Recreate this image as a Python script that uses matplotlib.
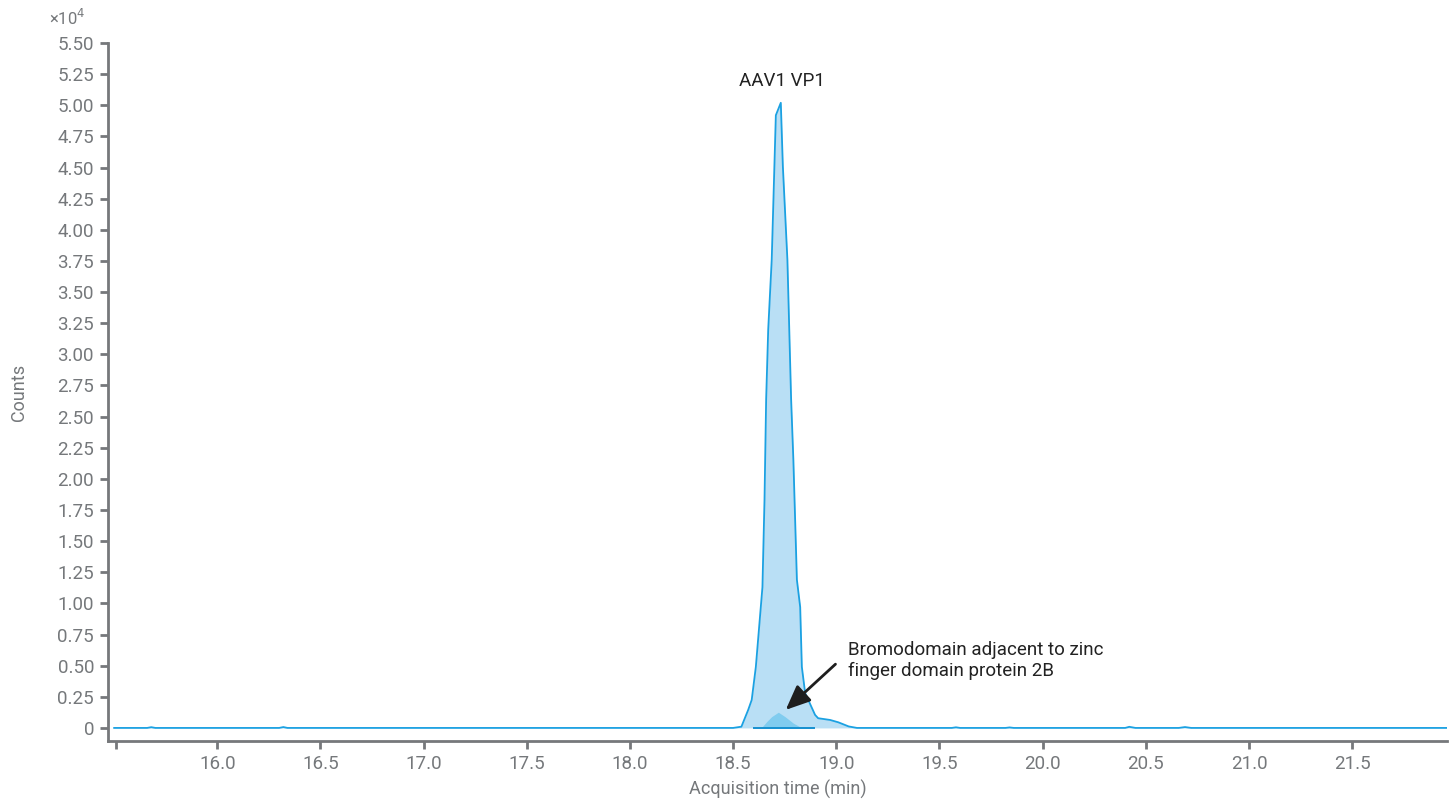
import matplotlib
matplotlib.use("Agg")
import matplotlib.pyplot as plt
from matplotlib.ticker import FuncFormatter, FixedLocator

plt.rcParams['font.family'] = ['Roboto', 'DejaVu Sans']

# main chromatogram (AAV1 VP1), time in min, intensity in counts
main_time = [15.50, 15.66, 15.68, 15.70, 16.30, 16.32, 16.34, 18.50, 18.54,
             18.573, 18.590, 18.610, 18.642, 18.652, 18.660, 18.670, 18.687,
             18.707, 18.731, 18.741, 18.763, 18.781, 18.792, 18.809, 18.825,
             18.833, 18.849, 18.897, 18.912, 18.970, 19.010, 19.060, 19.10,
             19.56, 19.58, 19.60, 19.82, 19.84, 19.86, 20.40, 20.42, 20.45,
             20.66, 20.69, 20.72, 21.96]
main_counts = [0, 0, 60, 0, 0, 70, 0, 0, 100,
               1450, 2250, 4900, 11300, 18300, 26400, 32000, 37600,
               49200, 50200, 45100, 37600, 26400, 21500, 11900, 9700,
               4900, 2800, 1050, 780, 640, 450, 120, 0,
               0, 50, 0, 0, 40, 0, 0, 90, 0,
               0, 70, 0, 0]

# co-eluting protein
minor_time = [18.60, 18.639, 18.663, 18.687, 18.719, 18.751, 18.792, 18.825, 18.89]
minor_counts = [0, 50, 510, 910, 1260, 910, 380, 80, 0]

x_ticks = [16.0, 16.5, 17.0, 17.5, 18.0, 18.5, 19.0, 19.5, 20.0, 20.5, 21.0, 21.5]
y_ticks = [i * 2500 for i in range(23)]

axis_gray = '#76787b'
label_gray = '#75787b'
line_blue = '#1ba1e2'

fig = plt.figure(figsize=(14.53, 8.01), dpi=100)
ax = fig.add_axes([0.0743, 0.0749, 0.9216, 0.8714])

ax.fill_between(main_time, main_counts, color='#b9dff5', linewidth=0)
ax.fill_between(minor_time, minor_counts, color='#80ccef', linewidth=0)
ax.plot(main_time, main_counts, color=line_blue, lw=1.3)
ax.plot([minor_time[0], minor_time[-1]], [0, 0], color='#1590d0', lw=1.4)

ax.set_xlim(15.47, 21.96)
ax.set_ylim(-1050, 55000)

ax.xaxis.set_major_locator(FixedLocator([15.51] + x_ticks))
ax.xaxis.set_major_formatter(FuncFormatter(lambda v, p: '' if v < 15.9 else f'{v:.1f}'))
ax.yaxis.set_major_locator(FixedLocator(y_ticks))
ax.yaxis.set_major_formatter(FuncFormatter(lambda v, p: '0' if v == 0 else f'{v / 1e4:.2f}'))

for side in ['top', 'right']:
    ax.spines[side].set_visible(False)
for side in ['left', 'bottom']:
    ax.spines[side].set_color(axis_gray)
    ax.spines[side].set_linewidth(2)
ax.tick_params(axis='both', colors=axis_gray, labelcolor=label_gray,
               labelsize=13.5, length=6, width=2, pad=4)

ax.set_xlabel('Acquisition time (min)', color=label_gray, fontsize=13, labelpad=5)
ax.set_ylabel('Counts', color=label_gray, fontsize=13, labelpad=21)
fig.text(0.034, 0.978, '×10$^4$', color=label_gray, fontsize=12, va='center')

ax.text(18.735, 51200, 'AAV1 VP1', ha='center', va='bottom', fontsize=13.5, color='#222222')
ax.text(19.057, 5450, 'Bromodomain adjacent to zinc\nfinger domain protein 2B',
        fontsize=13.5, color='#222222', ha='left', va='center', linespacing=1.2)
ax.annotate('', xy=(18.755, 1450), xytext=(18.996, 5120),
            arrowprops=dict(arrowstyle='-|>,head_length=1.5,head_width=0.65',
                            color='#1e1e1e', lw=2, shrinkA=0, shrinkB=0))

fig.savefig('out.png', dpi=100)
